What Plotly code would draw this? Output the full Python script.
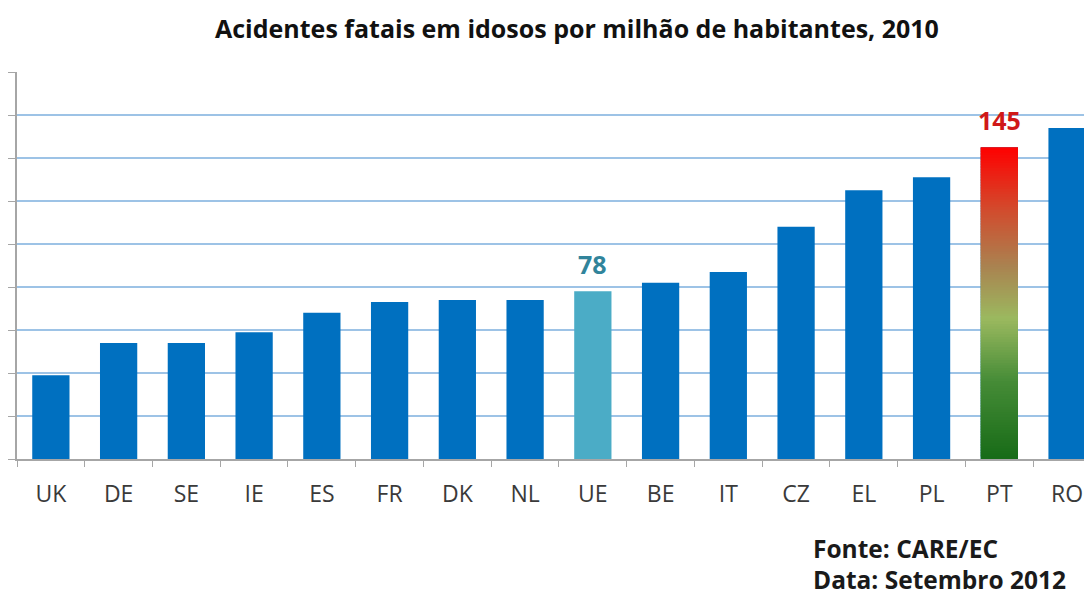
import plotly.graph_objects as go

categories = ["UK", "DE", "SE", "IE", "ES", "FR", "DK", "NL", "UE", "BE", "IT", "CZ", "EL", "PL", "PT", "RO"]
values = [39, 54, 54, 59, 68, 73, 74, 74, 78, 82, 87, 108, 125, 131, 145, 154]
title_text = "Acidentes fatais em idosos por milhão de habitantes, 2010"
source_lines = ["Fonte: CARE/EC", "Data: Setembro 2012"]
highlight_labels = {"UE": "78", "PT": "145"}

BLUE = "#0070C0"
UE_COLOR = "#4BACC6"
FONT = "Open Sans, Lato, sans-serif"
colors = [UE_COLOR if c == "UE" else BLUE for c in categories]

fig = go.Figure()
fig.add_trace(go.Bar(x=categories, y=values, marker=dict(color=colors, line=dict(width=0)),
                     width=0.55, hoverinfo="skip", showlegend=False))

# gradient overlay for PT bar (green bottom -> red top)
def lerp(c1, c2, t):
    return tuple(int(round(a + (b - a) * t)) for a, b in zip(c1, c2))

stops = [(0.0, (23, 107, 23)), (0.25, (70, 140, 55)), (0.45, (155, 185, 95)),
         (0.62, (170, 130, 80)), (0.8, (210, 75, 45)), (1.0, (255, 0, 0))]

def grad(t):
    for (t0, c0), (t1, c1) in zip(stops[:-1], stops[1:]):
        if t0 <= t <= t1:
            return lerp(c0, c1, (t - t0) / (t1 - t0))
    return stops[-1][1]

pt_idx = categories.index("PT")
pt_val = values[pt_idx]
N = 120
step = pt_val / N
seg_y, seg_base, seg_col = [], [], []
for i in range(N):
    base = i * step
    h = min(step * 1.8, pt_val - base)
    seg_y.append(h)
    seg_base.append(base)
    r, g, b = grad((i + 0.5) / N)
    seg_col.append(f"rgb({r},{g},{b})")
fig.add_trace(go.Bar(x=["PT"] * N, y=seg_y, base=seg_base,
                     marker=dict(color=seg_col, line=dict(width=0)),
                     width=0.55, hoverinfo="skip", showlegend=False))

# value labels
label_colors = {"UE": "#31849B", "PT": "#D01818"}
for cat, txt in highlight_labels.items():
    v = values[categories.index(cat)]
    fig.add_annotation(x=cat, y=v, text=f"<b>{txt}</b>", showarrow=False, yshift=27,
                       yanchor="middle",
                       font=dict(family=FONT, size=25, color=label_colors[cat]))

fig.add_annotation(xref="paper", yref="paper", x=0.525, y=1.0, yshift=44, yanchor="middle",
                   xanchor="center", text=f"<b>{title_text}</b>",
                   showarrow=False, font=dict(family=FONT, size=25, color="#111111"))

for i, line in enumerate(source_lines):
    fig.add_annotation(xref="paper", yref="paper", x=0.745, xanchor="left", y=0, yanchor="middle",
                       yshift=-89 - 31 * i, borderpad=0,
                       text=f"<b>{line}</b>", showarrow=False,
                       font=dict(family=FONT, size=24.5, color="#1a1a1a"))

fig.update_layout(
    width=1084, height=596,
    margin=dict(l=17, r=0, t=72, b=137),
    paper_bgcolor="white", plot_bgcolor="white",
    barmode="overlay",
    font=dict(family=FONT),
)
fig.update_xaxes(range=[-0.5, 15.25], showline=True, linecolor="#A6A6A6", linewidth=1.5,
                 ticks="outside", tickson="boundaries", ticklen=6, tickcolor="#A6A6A6",
                 ticklabelstandoff=14,
                 tickfont=dict(family=FONT, size=23, color="#3a3a3a"), showgrid=False)
fig.update_yaxes(range=[0, 180], dtick=20, showline=True, linecolor="#A6A6A6", linewidth=1.5,
                 ticks="outside", ticklen=7, tickcolor="#A6A6A6", showticklabels=False,
                 showgrid=True, gridcolor="#9DC3E6", gridwidth=2, zeroline=False)

# remove the default 8px page margin so the figure fills the window exactly
fig.write_html("out.html", config={"displayModeBar": False},
               post_script="document.body.style.margin='0';document.body.style.overflow='hidden';")
